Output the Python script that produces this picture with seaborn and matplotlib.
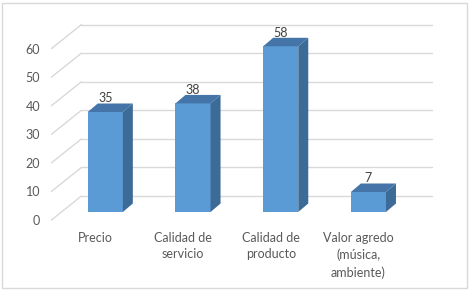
import pandas as pd
import seaborn as sns
import matplotlib.pyplot as plt
from matplotlib.patches import Polygon, Rectangle
from matplotlib.transforms import ScaledTranslation

# data
categories = ["Precio", "Calidad de\nservicio", "Calidad de\nproducto", "Valor agredo\n(música,\nambiente)"]
values = [35, 38, 58, 7]
y_ticks = [0, 10, 20, 30, 40, 50, 60]

FRONT = "#5B9BD5"
SIDE = "#3D6B97"
TOP = "#4474A8"
GRID = "#D9D9D9"
TEXT = "#595959"

W, H, DPI = 470, 290, 100

sns.set_theme(style="white")
plt.rcParams["font.family"] = ["Lato", "DejaVu Sans"]

fig = plt.figure(figsize=(W / DPI, H / DPI), dpi=DPI)
# axes box in pixels (left, right, top, bottom - measured from the top)
left_px, right_px, top_px, bot_px = 50, 440, 15, 225
ax = fig.add_axes([left_px / W, (H - bot_px) / H, (right_px - left_px) / W, (bot_px - top_px) / H])

df = pd.DataFrame({"categoria": categories, "valor": values})
sns.barplot(data=df, x="categoria", y="valor", color=FRONT, saturation=1,
            width=0.4, linewidth=0, ax=ax, zorder=3)

# limits after seaborn (it resets the categorical axis)
xmin, xmax = -0.6305, 3.816
ymin, ymax = -4.55, 68.95
ax.set_xlim(xmin, xmax)
ax.set_ylim(ymin, ymax)

# pixel -> data unit helpers
ux = (xmax - xmin) / (right_px - left_px)
uy = (ymax - ymin) / (bot_px - top_px)

# 3D depth (pixels): front floor, bar back face, back wall
front_dx, front_dy = -10 * ux, -8 * uy
bar_dx, bar_dy = 10 * ux, 8.5 * uy
wall_dx, wall_dy = 20 * ux, 16 * uy

# back wall + left wall gridlines
lo, hi = -0.5, len(categories) - 0.5
for v in y_ticks:
    ax.plot([lo + wall_dx, hi + wall_dx], [v + wall_dy, v + wall_dy],
            color=GRID, lw=1, zorder=1, clip_on=False)
    ax.plot([lo + front_dx, lo + wall_dx], [v + front_dy, v + wall_dy],
            color=GRID, lw=1, zorder=1, clip_on=False)

# side and top faces of each bar, plus value labels
for p, v in zip(ax.patches, values):
    x0, w, h = p.get_x(), p.get_width(), p.get_height()
    side = [(x0 + w, 0), (x0 + w + bar_dx, bar_dy), (x0 + w + bar_dx, h + bar_dy), (x0 + w, h)]
    top = [(x0, h), (x0 + bar_dx, h + bar_dy), (x0 + w + bar_dx, h + bar_dy), (x0 + w, h)]
    ax.add_patch(Polygon(side, closed=True, facecolor=SIDE, edgecolor="none", zorder=3))
    ax.add_patch(Polygon(top, closed=True, facecolor=TOP, edgecolor="none", zorder=3))
    ax.text(x0 + w / 2, h + bar_dy - 0.3, str(v), ha="center", va="bottom",
            fontsize=9, color="#404040", zorder=4)

ax.set_yticks(y_ticks)
ax.set_xlabel("")
ax.set_ylabel("")
for s in ax.spines.values():
    s.set_visible(False)
ax.tick_params(axis="y", length=0, pad=7, labelsize=9, labelcolor=TEXT)
ax.tick_params(axis="x", length=0, pad=5, labelsize=9, labelcolor=TEXT)

shift_y = ScaledTranslation(0, -8 / DPI, fig.dpi_scale_trans)
for lab in ax.get_yticklabels():
    lab.set_transform(lab.get_transform() + shift_y)
shift_x = ScaledTranslation(-10 / DPI, 0, fig.dpi_scale_trans)
for lab in ax.get_xticklabels():
    lab.set_transform(lab.get_transform() + shift_x)
    lab.set_multialignment("center")
    lab.set_linespacing(1.45)

# light frame around the chart area
fig.add_artist(Rectangle((2 / W, 2 / H), 465 / W, 285 / H, transform=fig.transFigure,
                         fill=False, edgecolor=GRID, lw=1))

fig.savefig("out.png", dpi=DPI)
